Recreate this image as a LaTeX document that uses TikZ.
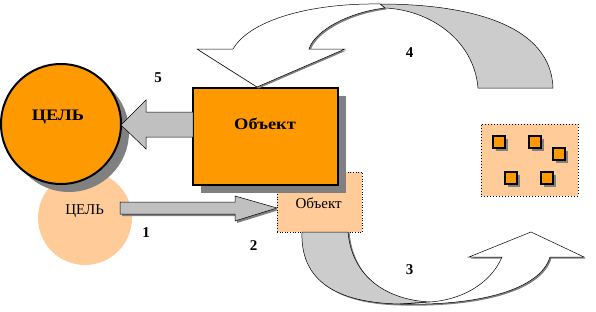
\documentclass[tikz,border=0pt]{standalone}
\usepackage{fontspec}
\setmainfont{Liberation Serif}
\definecolor{orng}{HTML}{FF9900}
\definecolor{peach}{HTML}{FFCC99}
\definecolor{lgrey}{HTML}{C0C0C0}
\definecolor{cgrey}{HTML}{CCCCCC}
\definecolor{shad}{HTML}{808080}
\tikzset{
  blockarrow/.style={fill=lgrey, draw=black, line width=0.5pt, line join=miter},
  ribbonback/.style={fill=cgrey, draw=black, line width=0.5pt},
  ribbonfront/.style={fill=white, draw=black, line width=0.5pt},
  shadowfill/.style={fill=shad},
  numlabel/.style={font=\fontsize{15}{17}\selectfont\bfseries, inner sep=0pt, anchor=base},
  boldtxt/.style={font=\fontsize{16}{18}\selectfont\bfseries, inner sep=0pt, anchor=base},
  plaintxt/.style={font=\fontsize{15}{17}\selectfont, inner sep=0pt, anchor=base},
  sq/.style={fill=orng, draw=black, line width=1.2pt, minimum size=12pt, inner sep=0pt},
  sqshadow/.style={fill=shad, minimum size=12pt, inner sep=0pt},
}
\begin{document}
\begin{tikzpicture}[x=1pt,y=-1pt]
\useasboundingbox (0,0) rectangle (596,311);
% light goal circle
\node[circle, fill=peach, minimum size=94pt, inner sep=0pt] (goalsmall) at (85,218) {};
\node[plaintxt] (goalsmalltxt) at (84.7,214.7) {ЦЕЛЬ};
% arrow 1
\fill[shadowfill] (122,204) -- (237,204) -- (237,198) -- (279,210) -- (237,223) -- (237,216) -- (122,216) -- cycle;
\draw[blockarrow] (120,202) -- (235,202) -- (235,196) -- (277,208) -- (235,221) -- (235,214) -- (120,214) -- cycle;
% big goal circle
\fill[shad] (69,132) circle (60);
\node[circle, draw=black, line width=2pt, fill=orng, minimum size=120pt, inner sep=0pt] (goal) at (61,124) {};
\node[boldtxt] (goaltxt) at (58,120.7) {\scalebox{1.15}[1]{ЦЕЛЬ}};
% light object box
\node[rectangle, fill=peach, draw=black, dotted, line width=0.6pt, minimum width=85pt, minimum height=60pt, inner sep=0pt] (objsmall) at (319.5,202) {};
\node[plaintxt] (objsmalltxt) at (318.7,208.3) {Объект};
% big object box
\fill[shad] (201,96) rectangle (346,193);
\node[rectangle, fill=orng, draw=black, line width=2.5pt, minimum width=145pt, minimum height=97pt, inner sep=0pt] (obj) at (265.5,136.5) {};
\node[boldtxt] (objtxt) at (265,129) {\scalebox{1.15}[1]{Объект}};
% arrow 5
\draw[blockarrow] (193,112) -- (146,112) -- (146,100) -- (121,125) -- (146,149) -- (146,137) -- (193,137) -- cycle;
% arrow 4 (top ribbon)
\draw[ribbonback] (553,88) .. controls (551,25) and (470,4) .. (380,4) -- (385,8) .. controls (430,10) and (474,40) .. (478,88) -- cycle;
\fill[shadowfill] (234.5,50.5) .. controls (251.5,21.5) and (311.5,4.5) .. (381.5,5.5) -- (386.5,9.5) .. controls (351.5,13.5) and (316.5,31.5) .. (310.5,50.5) -- (346.5,50.5) -- (258.5,88.5) -- (198.5,50.5) -- cycle;
\draw[ribbonfront] (233,49) .. controls (250,20) and (310,3) .. (380,4) -- (385,8) .. controls (350,12) and (315,30) .. (309,49) -- (345,49) -- (257,87) -- (197,49) -- cycle;
% arrow 3 (bottom ribbon)
\fill[shadowfill] (303.5,232) -- (349.5,232) .. controls (353.5,279.5) and (389.5,301.5) .. (431.5,303.5) -- (401.5,305.5) .. controls (349.5,304.5) and (301.5,289.5) .. (303.5,232) -- cycle;
\draw[ribbonback] (302,232) -- (348,232) .. controls (352,278) and (388,300) .. (430,302) -- (400,304) .. controls (348,303) and (300,288) .. (302,232) -- cycle;
\fill[shadowfill] (401.5,305.5) .. controls (479.5,307.5) and (541.5,291.5) .. (551.5,258.5) -- (585.5,258.5) -- (532.5,233.5) -- (470.5,258.5) -- (503.5,258.5) .. controls (491.5,286.5) and (461.5,301.5) .. (431.5,303.5) -- cycle;
\draw[ribbonfront] (400,304) .. controls (478,306) and (540,290) .. (550,257) -- (584,257) -- (531,232) -- (469,257) -- (502,257) .. controls (490,285) and (460,300) .. (430,302) -- cycle;
% right box with squares
\node[rectangle, fill=peach, draw=black, dotted, line width=1pt, minimum width=97pt, minimum height=72pt, inner sep=0pt] (group) at (529.5,160) {};
\foreach \n/\x/\y in {a/499/142, b/535/142, c/559/154, d/511/178, e/547/178} {
  \node[sqshadow] (s\n) at (\x+3,\y+3) {};
  \node[sq] (q\n) at (\x,\y) {};
}
% numbers
\node[numlabel] (n1) at (146,237.7) {1};
\node[numlabel] (n2) at (253.5,250) {2};
\node[numlabel] (n3) at (409.5,274.3) {3};
\node[numlabel] (n4) at (409.5,57.3) {4};
\node[numlabel] (n5) at (158,82.7) {5};
\end{tikzpicture}
\end{document}
